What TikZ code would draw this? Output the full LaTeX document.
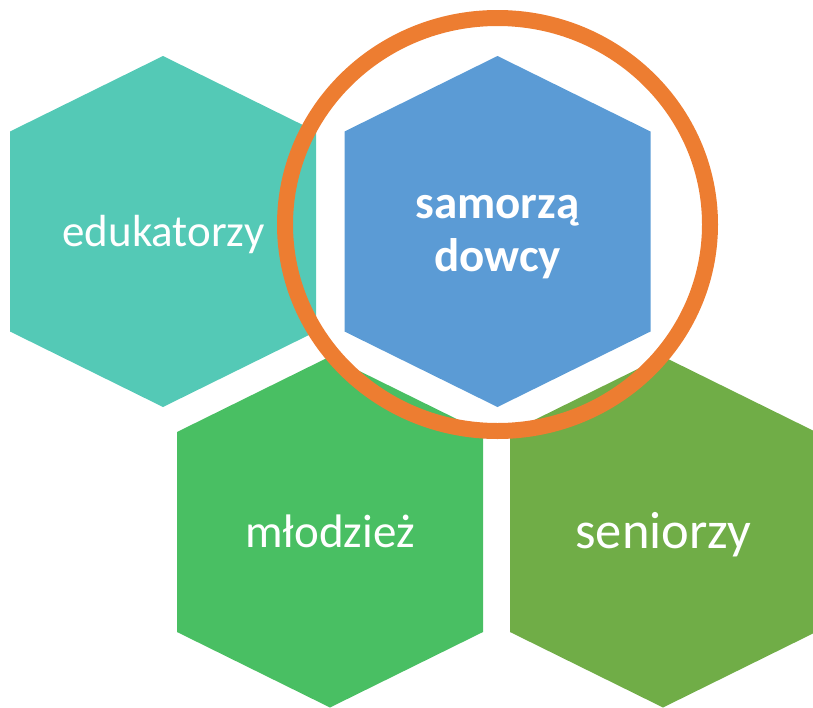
\documentclass[tikz,border=0pt]{standalone}
\usepackage{fontspec}
\setmainfont{Carlito}
\definecolor{hexteal}{RGB}{84,201,182}
\definecolor{hexblue}{RGB}{91,155,213}
\definecolor{hexgreen}{RGB}{73,191,99}
\definecolor{hexolive}{RGB}{112,173,71}
\definecolor{ringorange}{RGB}{237,125,49}
\tikzset{
  hexcell/.pic={\fill[pic actions] (0,-175.5) -- (153,-100) -- (153,100) -- (0,175.5) -- (-153,100) -- (-153,-100) -- cycle;},
  lbl/.style={text=white, anchor=base, inner sep=0pt, align=center},
}
\begin{document}
\begin{tikzpicture}[x=1pt,y=-1pt]
\useasboundingbox (0,0) rectangle (813,707);
\pic[fill=hexteal] at (163,231.5) {hexcell};
\pic[fill=hexblue] at (497.5,231.5) {hexcell};
\pic[fill=hexgreen] at (330,532) {hexcell};
\pic[fill=hexolive] at (663,532) {hexcell};
\node[lbl, font=\fontsize{45}{50}\selectfont] (edu) at (163.5,246) {edukatorzy};
\node[lbl, font=\bfseries\fontsize{47}{53}\selectfont] (sam) at (497.5,271) {samorzą\\dowcy};
\node[lbl, font=\fontsize{47}{53}\selectfont] (mlo) at (330,547) {młodzież};
\node[lbl, font=\fontsize{52.5}{60}\selectfont] (sen) at (663.5,548) {seniorzy};
\draw[ringorange, line width=16pt] (497.5,224.5) ellipse [x radius=212.5, y radius=206.5];
\end{tikzpicture}
\end{document}
